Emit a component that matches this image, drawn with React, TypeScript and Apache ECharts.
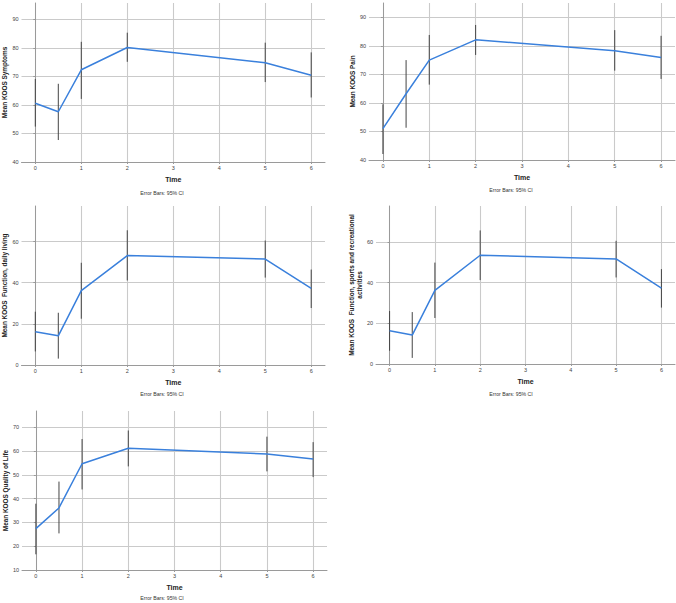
import React, { useEffect, useRef } from "react";
import * as echarts from "echarts";

const times = [0, 0.5, 1, 2, 5, 6];
const xTicks = [0, 1, 2, 3, 4, 5, 6];

const symptomsMean = [60.6, 57.6, 72.3, 80.1, 74.8, 70.4];
const symptomsLow = [52.4, 47.7, 62.1, 75.1, 68.0, 62.6];
const symptomsHigh = [69.1, 67.4, 82.1, 85.3, 81.8, 78.4];

const painMean = [51.0, 63.2, 75.0, 82.1, 78.3, 75.9];
const painLow = [42.1, 51.3, 66.4, 76.8, 71.3, 68.4];
const painHigh = [59.5, 75.0, 83.8, 87.3, 85.5, 83.5];

const adlMean = [16.2, 14.2, 36.2, 53.2, 51.5, 37.2];
const adlLow = [6.6, 3.1, 22.5, 41.1, 42.5, 27.7];
const adlHigh = [25.9, 25.4, 49.7, 65.5, 60.5, 46.4];

const sportMean = [16.3, 14.2, 36.2, 53.4, 51.6, 37.3];
const sportLow = [6.5, 3.0, 22.6, 41.2, 42.5, 27.7];
const sportHigh = [26.0, 25.5, 49.8, 65.6, 60.5, 46.6];

const qolMean = [27.4, 36.1, 54.7, 61.2, 58.8, 56.7];
const qolLow = [16.6, 25.4, 43.9, 53.6, 51.5, 49.1];
const qolHigh = [37.9, 47.2, 65.1, 68.7, 66.1, 63.8];

const ticksSymptoms = [40, 50, 60, 70, 80, 90];
const ticksPain = [40, 50, 60, 70, 80, 90];
const ticksFunction = [0, 20, 40, 60];
const ticksQol = [10, 20, 30, 40, 50, 60, 70];

const panels = [
  { name: "Mean KOOS Symptoms", mean: symptomsMean, low: symptomsLow, high: symptomsHigh, ticks: ticksSymptoms, min: 40, max: 95.7,
    grid: { left: 21, top: 3, width: 304, height: 159 }, gap: 16, note: { x: 162, y: 193 } },
  { name: "Mean KOOS Pain", mean: painMean, low: painLow, high: painHigh, ticks: ticksPain, min: 40, max: 95,
    grid: { left: 369, top: 3, width: 306, height: 157 }, gap: 16, note: { x: 511, y: 190 } },
  { name: "Mean KOOS  Function, daily living", mean: adlMean, low: adlLow, high: adlHigh, ticks: ticksFunction, min: 0, max: 77.3,
    grid: { left: 20, top: 206, width: 305, height: 159 }, gap: 16, note: { x: 162, y: 394 } },
  { name: "Mean KOOS  Function, sports and recreational\nactivities", mean: sportMean, low: sportLow, high: sportHigh, ticks: ticksFunction, min: 0, max: 77.6,
    grid: { left: 376, top: 206, width: 299, height: 158 }, gap: 18, note: { x: 511, y: 394 } },
  { name: "Mean KOOS Quality of Life", mean: qolMean, low: qolLow, high: qolHigh, ticks: ticksQol, min: 10, max: 76.9,
    grid: { left: 22, top: 411, width: 305, height: 159 }, gap: 16, note: { x: 162, y: 598 } },
];

const FONT = "Arial, 'Liberation Sans', Helvetica, sans-serif";
const GRID_COLOR = "#cacaca";
const AXIS_COLOR = "#9a9a9a";

export default function App() {
  const ref = useRef<HTMLDivElement>(null);

  useEffect(() => {
    if (!ref.current) return;
    const chart = echarts.init(ref.current, undefined, { renderer: "svg" });

    const grid: any[] = [];
    const xAxis: any[] = [];
    const yAxis: any[] = [];
    const series: any[] = [];
    const graphic: any[] = [];

    panels.forEach((p, i) => {
      grid.push({ ...p.grid, containLabel: false });
      xAxis.push({
        type: "value",
        gridIndex: i,
        min: -0.3,
        max: 6.3,
        name: "Time",
        nameLocation: "middle",
        nameGap: 17,
        nameTextStyle: { fontFamily: FONT, fontSize: 7, fontWeight: "bold", color: "#222", verticalAlign: "middle" },
        axisLine: { show: true, lineStyle: { color: AXIS_COLOR, width: 1 } },
        axisTick: { show: true, length: 2, lineStyle: { color: AXIS_COLOR }, customValues: xTicks },
        axisLabel: { customValues: xTicks, fontFamily: FONT, fontSize: 5.5, color: "#444", margin: 3 },
        splitLine: { show: true, lineStyle: { color: GRID_COLOR, width: 1.1 } },
      });
      yAxis.push({
        type: "value",
        gridIndex: i,
        min: p.min,
        max: p.max,
        name: p.name,
        nameLocation: "middle",
        nameGap: p.gap,
        nameTextStyle: { fontFamily: FONT, fontSize: 6.4, fontWeight: "bold", color: "#222", verticalAlign: "middle", lineHeight: 7.5 },
        axisLine: { show: true, lineStyle: { color: AXIS_COLOR, width: 1 } },
        axisTick: { show: true, length: 2, lineStyle: { color: AXIS_COLOR }, customValues: p.ticks },
        axisLabel: { customValues: p.ticks, fontFamily: FONT, fontSize: 5.5, color: "#444", margin: 3 },
        splitLine: { show: true, lineStyle: { color: GRID_COLOR, width: 1.1 } },
      });
      series.push({
        type: "custom",
        xAxisIndex: i,
        yAxisIndex: i,
        z: 2,
        silent: true,
        data: times.map((t, k) => [t, p.low[k], p.high[k]]),
        renderItem: (_params: any, api: any) => {
          const a = api.coord([api.value(0), api.value(1)]);
          const b = api.coord([api.value(0), api.value(2)]);
          return {
            type: "line",
            shape: { x1: a[0], y1: a[1], x2: b[0], y2: b[1] },
            style: { stroke: "#444", lineWidth: 1 },
          };
        },
      });
      series.push({
        type: "line",
        xAxisIndex: i,
        yAxisIndex: i,
        z: 3,
        silent: true,
        symbol: "none",
        data: times.map((t, k) => [t, p.mean[k]]),
        lineStyle: { color: "#3a80dc", width: 1.5 },
      });
      graphic.push({
        type: "text",
        x: p.note.x,
        y: p.note.y,
        style: {
          text: "Error Bars: 95% CI",
          fontFamily: FONT,
          fontSize: 5.2,
          fill: "#333",
          align: "center",
          verticalAlign: "middle",
        },
      });
    });

    chart.setOption({
      animation: false,
      backgroundColor: "#ffffff",
      grid,
      xAxis,
      yAxis,
      series,
      graphic,
    });

    return () => chart.dispose();
  }, []);

  return (
    <div
      ref={ref}
      style={{ position: "fixed", left: 0, top: 0, width: 676, height: 603, background: "#fff" }}
    />
  );
}
